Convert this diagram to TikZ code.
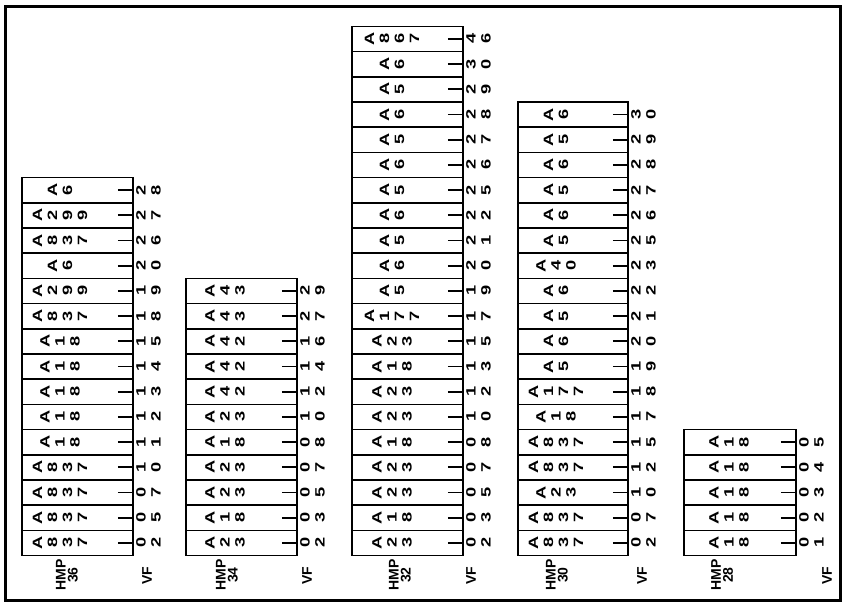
\documentclass[tikz,border=0pt]{standalone}
\usepackage{fontspec}
\usepackage{graphicx}
\setmainfont{Liberation Sans}
\makeatletter
\newcommand\glyphrow[2]{\edef\gr@s{#2}\def\gr@p{#1}\expandafter\gr@loop\expandafter{\gr@s}}
\def\gr@loop#1{\@tfor\gr@c:=#1\do{\makebox[\gr@p][c]{$\vcenter{\hbox{\rotatebox{90}{\scalebox{1.35}[1]{\gr@c}}}}$}}}
\makeatother
\tikzset{
  cellbox/.style={draw, line width=1.6pt, minimum height=25.2pt, inner sep=0pt},
  glyph/.style={inner sep=0pt, font=\fontsize{13.5}{14}\selectfont\bfseries},
  lbl/.style={inner sep=0pt, font=\fontsize{14}{12}\selectfont\bfseries},
  tickline/.style={line width=1.8pt},
  frame/.style={line width=3pt}
}
% #1 id, #2 rows, #3 left, #4 right, #5 text offset, #6 list
\newcommand\drawcol[6]{%
  \foreach \lbl/\num [count=\i] in {#6} {
    \pgfmathsetmacro\yc{555.5-(#2-\i+0.5)*25.2}
    \node[cellbox, minimum width={(#4-#3)*1pt}] (#1b\i) at ({(#3+#4)/2},\yc) {};
    \node[glyph] (#1t\i) at ({#3+#5},\yc) {\glyphrow{15pt}{\lbl}};
    \draw[tickline] ([xshift=-16pt]#1b\i.east) -- (#1b\i.east);
    \node[glyph] (#1n\i) at ({#4+15.5},\yc) {\glyphrow{15pt}{\num}};
  }%
}
\begin{document}
\begin{tikzpicture}[x=1pt,y=-1pt]
\useasboundingbox (0,0) rectangle (842,603);
\draw[frame] (5,6.5) rectangle (840,600);

\drawcol{a}{15}{22}{133}{38}{A6/28,A299/27,A837/26,A6/20,A299/19,A837/18,A18/15,A18/14,A18/13,A18/12,A18/11,A837/10,A837/07,A837/05,A837/02}
\drawcol{b}{11}{186}{297}{39}{A43/29,A43/27,A42/16,A42/14,A42/12,A23/10,A18/08,A23/07,A23/05,A18/03,A23/02}
\drawcol{c}{21}{352}{463}{40}{A867/46,A6/30,A5/29,A6/28,A5/27,A6/26,A5/25,A6/22,A5/21,A6/20,A5/19,A177/17,A23/15,A18/13,A23/12,A23/10,A18/08,A23/07,A23/05,A18/03,A23/02}
\drawcol{d}{18}{518}{628}{38}{A6/30,A5/29,A6/28,A5/27,A6/26,A5/25,A40/23,A6/22,A5/21,A6/20,A5/19,A177/18,A18/17,A837/15,A837/12,A23/10,A837/07,A837/02}
\drawcol{e}{5}{684}{796}{45}{A18/05,A18/04,A18/03,A18/02,A18/01}

\node[lbl, rotate=90, align=center] (h36) at (67,575) {HMP\\36};
\node[lbl, rotate=90, align=center] (h34) at (227,575) {HMP\\34};
\node[lbl, rotate=90, align=center] (h32) at (400,575) {HMP\\32};
\node[lbl, rotate=90, align=center] (h30) at (557,575) {HMP\\30};
\node[lbl, rotate=90, align=center] (h28) at (722,575) {HMP\\28};
\node[lbl, rotate=90] (v36) at (147,576) {VF};
\node[lbl, rotate=90] (v34) at (307,576) {VF};
\node[lbl, rotate=90] (v32) at (471,576) {VF};
\node[lbl, rotate=90] (v30) at (642,576) {VF};
\node[lbl, rotate=90] (v28) at (827,576) {VF};
\end{tikzpicture}
\end{document}
